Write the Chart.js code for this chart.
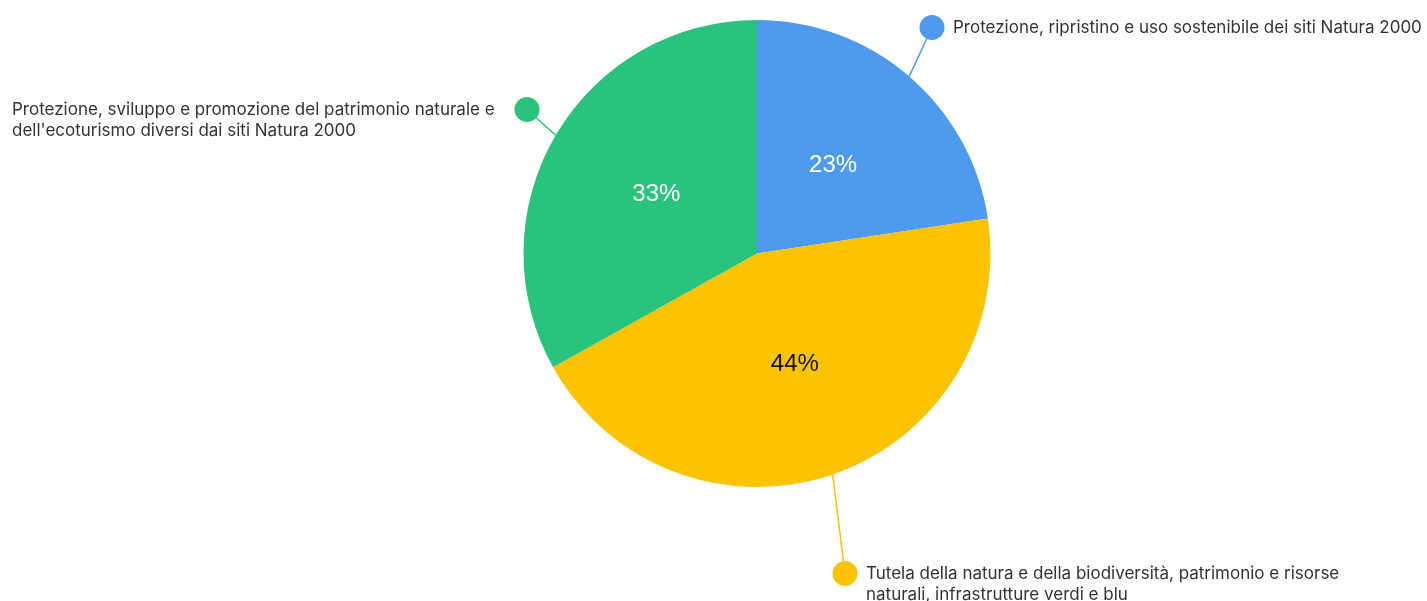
<!DOCTYPE html>
<html><head><meta charset="utf-8">
<script src="https://cdn.jsdelivr.net/npm/chart.js@4/dist/chart.umd.min.js"></script>
<style>html,body{margin:0;padding:0;background:#fff;}#wrap{width:1427px;height:601px;}</style>
</head><body><div id="wrap"><canvas id="c" width="1427" height="601"></canvas></div>
<script>
const categories = [
  ["Protezione, ripristino e uso sostenibile dei siti Natura 2000"],
  ["Tutela della natura e della biodiversità, patrimonio e risorse", "naturali, infrastrutture verdi e blu"],
  ["Protezione, sviluppo e promozione del patrimonio naturale e", "dell'ecoturismo diversi dai siti Natura 2000"]
];
const values = [22.6, 44.3, 33.1];
const colors = ["#4D9AEE", "#FCC300", "#2AC37D"];
const pctColors = ["#ffffff", "#111111", "#ffffff"];

// callout dot offsets from pie centre and text placement
const callouts = [
  {dx: 175, dy: -226, side: 'right'},
  {dx: 88, dy: 320, side: 'right'},
  {dx: -230, dy: -144, side: 'left', textX: 12}
];

const calloutPlugin = {
  id: 'callouts',
  afterDatasetsDraw(chart) {
    const ctx = chart.ctx;
    const meta = chart.getDatasetMeta(0);
    meta.data.forEach((arc, i) => {
      const mid = (arc.startAngle + arc.endAngle) / 2;
      const cx = arc.x, cy = arc.y, r = arc.outerRadius;
      const c = arc.getCenterPoint();
      ctx.save();
      ctx.font = '24px "Liberation Sans", Arial, sans-serif';
      ctx.fillStyle = pctColors[i];
      ctx.textAlign = 'center';
      ctx.textBaseline = 'middle';
      ctx.fillText(Math.round(values[i]) + '%', c.x, c.y);
      const ex = cx + Math.cos(mid) * r, ey = cy + Math.sin(mid) * r;
      const co = callouts[i];
      const dx = cx + co.dx, dy = cy + co.dy;
      ctx.strokeStyle = colors[i];
      ctx.lineWidth = 1.5;
      ctx.beginPath(); ctx.moveTo(ex, ey); ctx.lineTo(dx, dy); ctx.stroke();
      ctx.fillStyle = colors[i];
      ctx.beginPath(); ctx.arc(dx, dy, 12.5, 0, Math.PI * 2); ctx.fill();
      ctx.font = '17px Inter, "Noto Sans", sans-serif';
      ctx.fillStyle = '#333333';
      ctx.textAlign = 'left';
      const lines = categories[i];
      const tx = co.side === 'right' ? dx + 21 : co.textX;
      lines.forEach((ln, k) => ctx.fillText(ln, tx, dy + k * 21.5));
      ctx.restore();
    });
  }
};

new Chart(document.getElementById('c'), {
  type: 'pie',
  data: {
    labels: categories.map(l => l.join(' ')),
    datasets: [{ data: values, backgroundColor: colors, borderWidth: 0, hoverOffset: 0 }]
  },
  options: {
    responsive: false,
    animation: false,
    events: [],
    layout: { padding: { top: 20, bottom: 114, left: 87, right: 0 } },
    plugins: { legend: { display: false }, tooltip: { enabled: false } }
  },
  plugins: [calloutPlugin]
});
</script>
</body></html>
